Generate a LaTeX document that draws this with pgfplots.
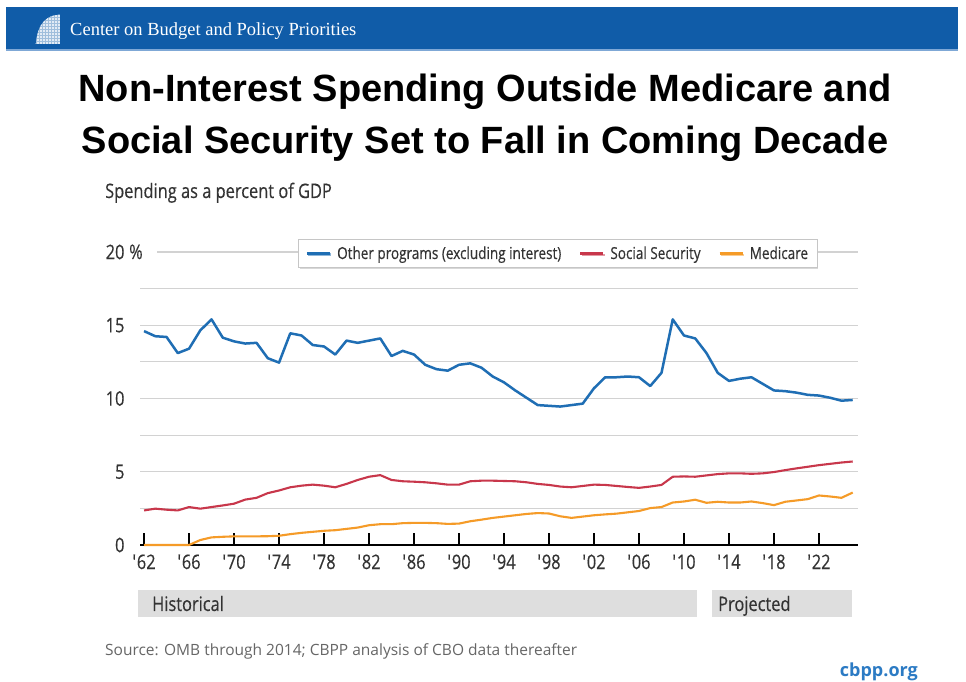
\documentclass[border=0pt]{standalone}
\usepackage{fontspec}
\usepackage{pgfplots}
\pgfplotsset{compat=1.18}
\usepackage{pgfplotstable}
\usetikzlibrary{shadows}
\setmainfont{Open Sans}
\newfontfamily\cond[FakeStretch=0.82,FakeBold=0.35]{Open Sans}
\newfontfamily\titlefont{Liberation Sans}
\newfontfamily\hdrfont{Liberation Serif}

\definecolor{hdrblue}{HTML}{105CA8}
\definecolor{hdrline}{HTML}{7FA8D6}
\definecolor{cblue}{HTML}{1F6EB4}
\definecolor{cred}{HTML}{C8374B}
\definecolor{corange}{HTML}{F59B28}
\definecolor{gridgray}{HTML}{D2D2D2}
\definecolor{bandgray}{HTML}{DEDEDE}
\definecolor{tickgray}{HTML}{333333}
\definecolor{srcgray}{HTML}{666666}
\definecolor{linkblue}{HTML}{2C7BC4}

% spending as a percent of GDP
\pgfplotstableread{
year other ss med
1962 14.6 2.36 0
1963 14.25 2.48 0
1964 14.2 2.41 0
1965 13.1 2.36 0
1966 13.4 2.59 0
1967 14.65 2.48 0.34
1968 15.4 2.59 0.52
1969 14.15 2.70 0.56
1970 13.9 2.82 0.59
1971 13.75 3.10 0.59
1972 13.8 3.22 0.59
1973 12.75 3.54 0.60
1974 12.45 3.72 0.63
1975 14.45 3.94 0.74
1976 14.3 4.05 0.83
1977 13.65 4.12 0.90
1978 13.55 4.05 0.97
1979 13.0 3.94 1.01
1980 13.95 4.17 1.10
1981 13.8 4.44 1.19
1982 13.95 4.66 1.35
1983 14.1 4.77 1.42
1984 12.9 4.44 1.42
1985 13.25 4.35 1.49
1986 13.0 4.32 1.51
1987 12.3 4.28 1.51
1988 12.0 4.21 1.49
1989 11.9 4.12 1.44
1990 12.3 4.12 1.46
1991 12.4 4.35 1.62
1992 12.1 4.39 1.73
1993 11.5 4.39 1.85
1994 11.1 4.37 1.94
1995 10.55 4.35 2.03
1996 10.05 4.28 2.12
1997 9.55 4.17 2.18
1998 9.5 4.10 2.15
1999 9.45 3.99 1.96
2000 9.55 3.94 1.85
2001 9.65 4.03 1.94
2002 10.7 4.12 2.03
2003 11.45 4.10 2.09
2004 11.45 4.03 2.14
2005 11.5 3.96 2.23
2006 11.45 3.90 2.32
2007 10.85 3.99 2.52
2008 11.75 4.10 2.59
2009 15.4 4.66 2.90
2010 14.3 4.68 2.97
2011 14.1 4.66 3.09
2012 13.1 4.75 2.88
2013 11.75 4.84 2.95
2014 11.2 4.89 2.90
2015 11.35 4.89 2.90
2016 11.45 4.86 2.97
2017 11.0 4.89 2.86
2018 10.55 4.98 2.72
2019 10.5 5.11 2.95
2020 10.4 5.23 3.04
2021 10.25 5.34 3.13
2022 10.2 5.45 3.38
2023 10.05 5.54 3.31
2024 9.85 5.63 3.22
2025 9.9 5.70 3.58
}\spending

\newcommand\q{\textquotesingle}

\begin{document}
\begin{tikzpicture}[x=1pt,y=1pt]
\useasboundingbox (0,0) rectangle (966,682);
\fill[white] (0,0) rectangle (966,682);

% header bar
\fill[hdrblue] (6,632) rectangle (958,675);
\fill[hdrline] (6,631) rectangle (958,633);
\fill[white!88!hdrblue] (30,638) rectangle (60,668);
\foreach \i in {33,36,...,57} {\draw[hdrblue!40,line width=0.4pt] (\i,638) -- (\i,668);}
\foreach \i in {641,644,...,665} {\draw[hdrblue!40,line width=0.4pt] (30,\i) -- (60,\i);}
\fill[hdrblue] (29,669) -- (29,637) -- (35.5,637) .. controls (37.5,660) and (47,667.5) .. (61,667.5) -- (61,669) -- cycle;
\node[anchor=base west,text=white,font=\hdrfont\fontsize{18.5}{19}\selectfont,inner sep=0pt] at (70,646) {Center on Budget and Policy Priorities};

% title
\node[anchor=base,font=\titlefont\bfseries\fontsize{38}{40}\selectfont,inner sep=0pt] at (485,580) {Non-Interest Spending Outside Medicare and};
\node[anchor=base,font=\titlefont\bfseries\fontsize{38}{40}\selectfont,inner sep=0pt] at (485,528) {Social Security Set to Fall in Coming Decade};

% axis title
\node[anchor=base west,text=tickgray,font=\cond\fontsize{20}{21}\selectfont,inner sep=0pt] at (105,484) {Spending as a percent of GDP};

\begin{axis}[
  at={(140pt,137pt)}, anchor=south west,
  scale only axis, width=718pt, height=293pt,
  xmin=1961.64, xmax=2025.47, ymin=0, ymax=20,
  clip=false,
  axis x line=bottom, axis y line=left,
  x axis line style={-, black, line width=1.5pt},
  y axis line style={draw=none},
  xtick={1962,1966,...,2022},
  xticklabels={{\q62},{\q66},{\q70},{\q74},{\q78},{\q82},{\q86},{\q90},{\q94},{\q98},{\q02},{\q06},{\q10},{\q14},{\q18},{\q22}},
  minor x tick num=3,
  xtick align=inside,
  major tick length=12pt, minor tick length=7pt,
  xtick style={black, line width=1.3pt},
  ytick={0,5,10,15,20},
  yticklabels={0,5,10,15,20},
  minor ytick={2.5,7.5,12.5,17.5},
  ytick style={draw=none},
  ymajorgrids, yminorgrids,
  major grid style={gridgray, line width=1.2pt},
  minor grid style={gridgray, line width=1.2pt},
  ticklabel style={font=\cond\fontsize{20}{21}\selectfont, text=tickgray},
  yticklabel style={xshift=-6pt},
  xticklabel style={yshift=-6pt},
  legend columns=3,
  legend style={at={(0.582,0.995)}, anchor=center,
    draw=gray!45, fill=white, line width=0.8pt,
    drop shadow={shadow xshift=1.2pt, shadow yshift=-1.2pt, fill=black!30},
    font=\cond\fontsize{16.5}{17}\selectfont, text=tickgray,
    inner xsep=7pt, inner ysep=5pt,
    /tikz/every even column/.append style={column sep=16pt},
    /tikz/every odd column/.append style={column sep=4pt}},
  legend image code/.code={\draw[#1] (0pt,0pt) -- (23pt,0pt);},
]
\addplot[cblue, line width=2.5pt, line join=round] table[x=year, y=other] {\spending};
\addplot[cred, line width=2.1pt, line join=round] table[x=year, y=ss] {\spending};
\addplot[corange, line width=2.1pt, line join=round] table[x=year, y=med] {\spending};
\legend{Other programs (excluding interest), Social Security, Medicare}
\end{axis}

% percent sign beside the top tick label
\fill[white] (139,424) rectangle (157,436);
\node[anchor=base west,text=tickgray,font=\cond\fontsize{20}{21}\selectfont,inner sep=0pt] at (129,423) {\%};

% historical / projected bands
\fill[bandgray] (138,65) rectangle (697,92);
\fill[bandgray] (712,65) rectangle (852,92);
\node[anchor=base west,text=tickgray,font=\cond\fontsize{20}{21}\selectfont,inner sep=0pt] at (152,71) {Historical};
\node[anchor=base west,text=tickgray,font=\cond\fontsize{20}{21}\selectfont,inner sep=0pt] at (718,71) {Projected};

% source and link
\node[anchor=base west,text=srcgray,font=\fontsize{15.5}{16}\selectfont,inner sep=0pt] at (105,26) {Source: OMB through 2014; CBPP analysis of CBO data thereafter};
\node[anchor=base east,text=linkblue,font=\bfseries\fontsize{18}{19}\selectfont,inner sep=0pt] at (918,5) {cbpp.org};
\end{tikzpicture}
\end{document}
